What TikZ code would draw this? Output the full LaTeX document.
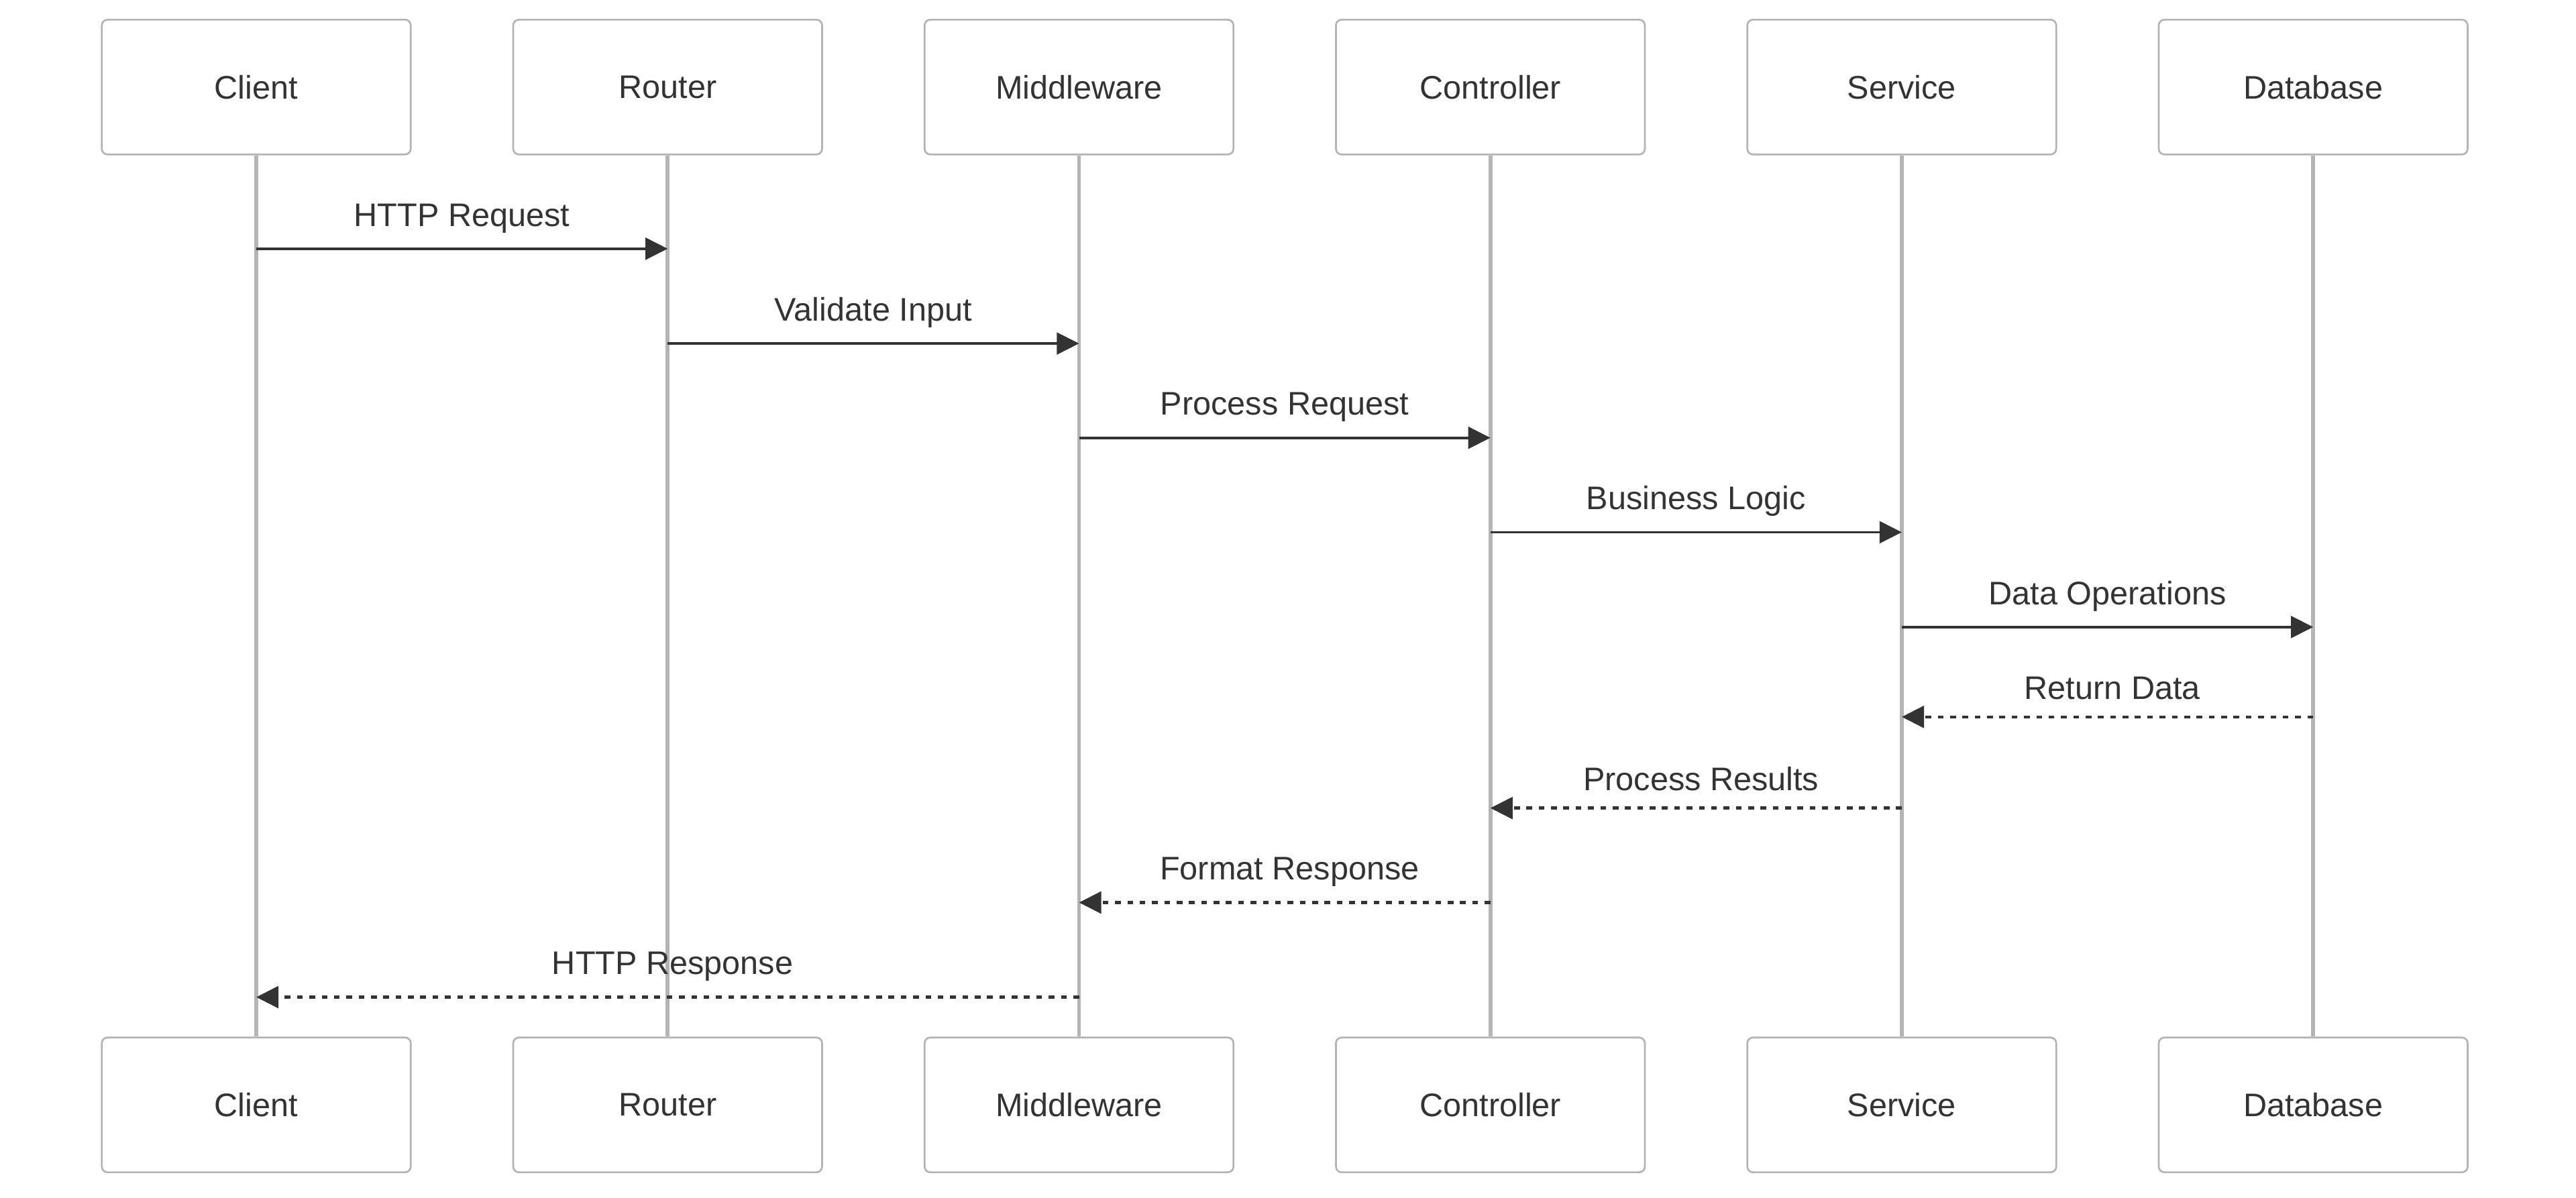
\documentclass[tikz,border=0pt]{standalone}
\usepackage{fontspec}
\setmainfont{Liberation Sans}
\usepackage{tikz}
\usepackage{xcolor}
\usetikzlibrary{arrows.meta}

\definecolor{lifegray}{RGB}{180,180,180}
\definecolor{inkgray}{RGB}{51,51,51}

\begin{document}
\begin{tikzpicture}[x=0.2mm, y=-0.2mm,
  actor/.style={draw=lifegray, line width=0.22mm, fill=white, rounded corners=0.68mm,
    minimum width=37.6mm, minimum height=16.4mm, inner sep=0pt,
    text=inkgray, font=\fontsize{11.3}{13}\selectfont},
  lifeline/.style={draw=lifegray, line width=0.48mm},
  call/.style={draw=inkgray, line width=0.32mm, -{Triangle[length=2.7mm, width=2.65mm]}},
  reply/.style={call, line width=0.36mm, dash pattern=on 0.7mm off 0.8mm},
  msgtext/.style={midway, anchor=base, yshift=2.75mm, text=inkgray,
    font=\fontsize{11.3}{13}\selectfont},
  replytext/.style={msgtext, xshift=0.6mm}]

\useasboundingbox (0,0) rectangle (1568,728.9);

% participants, top row
\node[actor] (clientTop) at (156,53) {Client};
\node[actor] (routerTop) at (406.4,53) {Router};
\node[actor] (midTop) at (656.8,53) {Middleware};
\node[actor] (ctrlTop) at (907.2,53) {Controller};
\node[actor] (servTop) at (1157.6,53) {Service};
\node[actor] (dbTop) at (1408,53) {Database};

% participants, bottom row
\node[actor] (clientBot) at (156,672.6) {Client};
\node[actor] (routerBot) at (406.4,672.6) {Router};
\node[actor] (midBot) at (656.8,672.6) {Middleware};
\node[actor] (ctrlBot) at (907.2,672.6) {Controller};
\node[actor] (servBot) at (1157.6,672.6) {Service};
\node[actor] (dbBot) at (1408,672.6) {Database};

% lifelines
\draw[lifeline] (clientTop) -- (clientBot);
\draw[lifeline] (routerTop) -- (routerBot);
\draw[lifeline] (midTop) -- (midBot);
\draw[lifeline] (ctrlTop) -- (ctrlBot);
\draw[lifeline] (servTop) -- (servBot);
\draw[lifeline] (dbTop) -- (dbBot);

% message rows
\coordinate (r1) at (0,151.4);
\coordinate (r2) at (0,209.1);
\coordinate (r3) at (0,266.5);
\coordinate (r4) at (0,324);
\coordinate (r5) at (0,381.7);
\coordinate (r6) at (0,436.4);
\coordinate (r7) at (0,491.9);
\coordinate (r8) at (0,549.4);
\coordinate (r9) at (0,607);

% requests
\draw[call] (clientTop |- r1) -- node[msgtext] {HTTP Request} (routerTop |- r1);
\draw[call] (routerTop |- r2) -- node[msgtext] {Validate Input} (midTop |- r2);
\draw[call] (midTop |- r3) -- node[msgtext] {Process Request} (ctrlTop |- r3);
\draw[call] (ctrlTop |- r4) -- node[msgtext] {Business Logic} (servTop |- r4);
\draw[call] (servTop |- r5) -- node[msgtext] {Data Operations} (dbTop |- r5);

% replies
\draw[reply] (dbTop |- r6) -- node[replytext, yshift=-0.6mm] {Return Data} (servTop |- r6);
\draw[reply] (servTop |- r7) -- node[replytext, yshift=-0.6mm] {Process Results} (ctrlTop |- r7);
\draw[reply] (ctrlTop |- r8) -- node[replytext] {Format Response} (midTop |- r8);
\draw[reply] (midTop |- r9) -- node[replytext] {HTTP Response} (clientTop |- r9);

\end{tikzpicture}
\end{document}
